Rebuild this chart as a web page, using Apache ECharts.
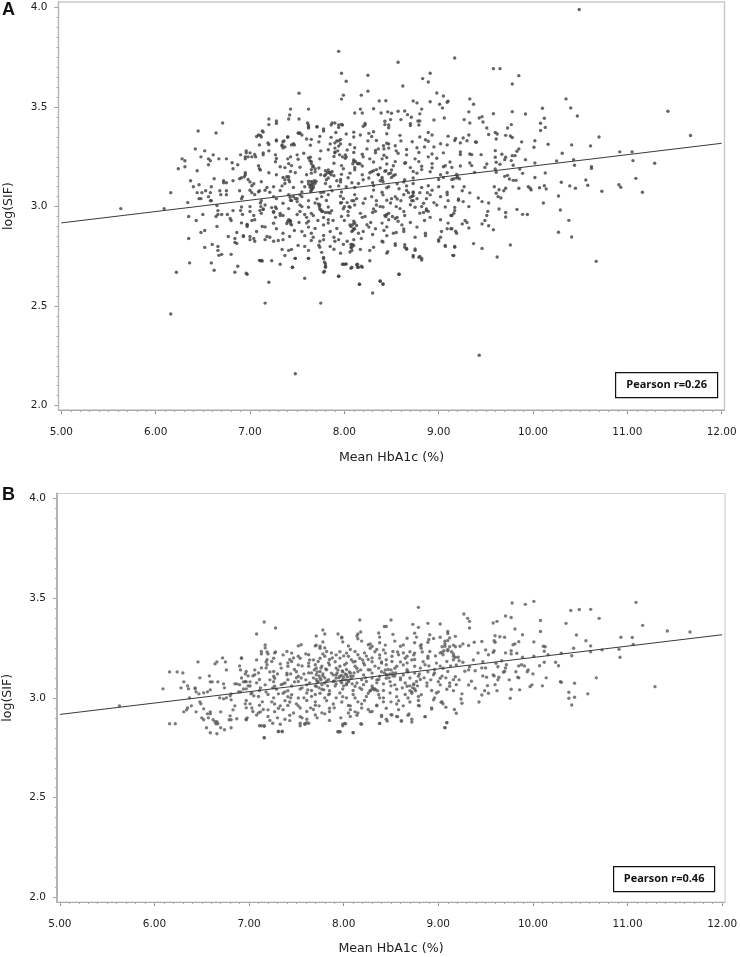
<!DOCTYPE html>
<html><head><meta charset="utf-8">
<style>html,body{margin:0;padding:0;background:#fff}#c{width:740px;height:957px}</style>
<script src="https://cdn.jsdelivr.net/npm/echarts@6/dist/echarts.min.js"></script>
</head><body><div id="c"></div>
<script>
const xTickLabels=[5,6,7,8,9,10,11,12];
const yTickLabels=[2,2.5,3,3.5,4];
const trendA=[[5,2.918],[12,3.318]];
const trendB=[[5,2.917],[12,3.316]];
const pointsA=[[5.63,2.99],[6.09,2.99],[6.16,3.07],[6.34,3.02],[6.28,3.24],[6.31,3.23],[6.31,3.2],[6.24,3.19],[6.45,3.38],[6.64,3.37],[6.71,3.42],[6.42,3.29],[6.52,3.28],[6.48,3.25],[6.61,3.26],[6.56,3.24],[6.58,3.23],[6.56,3.21],[6.67,3.24],[6.75,3.24],[6.44,3.18],[6.81,3.22],[6.87,3.21],[6.82,3.19],[6.9,3.26],[6.96,3.28],[7,3.27],[6.95,3.25],[6.98,3.25],[7.06,3.25],[7.14,3.26],[7.09,3.36],[7.12,3.35],[7.13,3.38],[7.2,3.44],[7.28,3.43],[7.19,3.32],[7.28,3.33],[7.36,3.33],[7.4,3.35],[7.34,3.31],[7.37,3.3],[7.44,3.31],[7.47,3.31],[7.43,3.49],[7.42,3.46],[7.41,3.44],[7.52,3.44],[7.52,3.57],[7.62,3.49],[7.51,3.37],[7.53,3.37],[7.61,3.42],[7.62,3.4],[7.71,3.4],[7.78,3.38],[7.86,3.41],[7.9,3.42],[7.94,3.41],[7.98,3.41],[7.94,3.78],[7.97,3.67],[8.02,3.63],[7.99,3.56],[7.97,3.54],[8.18,3.56],[8.25,3.66],[8.25,3.58],[8.17,3.49],[8.19,3.47],[8.11,3.47],[8.22,3.41],
[7.2,3.412],[7.28,3.418],[7.62,3.41],[7.87,3.42],[7.97,3.413],[8.22,3.418],[8.43,3.412],[8.7,3.417],[8.79,3.41],[7.62,3.395],[7.71,3.402],[7.78,3.39],[7.94,3.398],[8.2,3.404],[8.47,3.396],
[7.14,3.375],[7.52,3.368],[7.91,3.372],[8.02,3.365],[8.1,3.374],[8.26,3.368],[8.31,3.376],[8.45,3.366],[8.89,3.372],[7.07,3.352],[7.11,3.358],[7.4,3.35],[7.55,3.36],[7.74,3.353],[7.86,3.348],[8.17,3.36],[8.29,3.352],[8.59,3.358],[8.8,3.35],[8.93,3.36],[9.1,3.354],
[7.28,3.335],[7.35,3.326],[7.65,3.338],[7.92,3.33],[7.96,3.337],[7.73,3.325],[8.34,3.332],[8.72,3.326],[8.86,3.336],[8.89,3.328],[9.17,3.332],[7.2,3.312],[7.34,3.305],[7.46,3.316],[7.64,3.308],[7.85,3.315],[7.94,3.304],[8.06,3.312],[8.45,3.318],[8.54,3.306],[9.09,3.31],[9.02,3.316],
[7.35,3.295],[7.83,3.286],[7.9,3.294],[8.03,3.284],[8.11,3.296],[8.24,3.29],[8.33,3.282],[8.47,3.294],[8.66,3.287],[8.77,3.296],[6.96,3.27],[7.05,3.262],[7.14,3.27],[7.27,3.26],[7.57,3.268],[7.9,3.274],[8.01,3.26],[8.1,3.272],[8.19,3.263],[8.33,3.27],[8.42,3.258],[8.57,3.268],[8.66,3.26],[8.79,3.272],[8.93,3.264],[9.05,3.27],[9.23,3.262],
[6.95,3.24],[7.02,3.25],[7.28,3.242],[7.43,3.25],[7.51,3.238],[7.64,3.248],[7.74,3.24],[7.89,3.252],[8.01,3.243],[8.2,3.25],[8.27,3.24],[8.45,3.247],[8.75,3.24],[8.89,3.25],[8.98,3.243],[7.27,3.225],[7.41,3.216],[7.65,3.226],[7.89,3.218],[8.1,3.228],[8.15,3.216],[8.31,3.224],[8.45,3.214],[8.54,3.226],[8.64,3.218],[8.79,3.226],[8.93,3.216],[9.12,3.224],
[7.09,3.205],[7.37,3.196],[7.44,3.206],[7.53,3.198],[7.67,3.204],[7.73,3.194],[7.97,3.206],[8.11,3.197],[8.19,3.204],[8.38,3.194],[8.52,3.205],[8.7,3.196],[8.82,3.203],[8.93,3.195],[9.07,3.205],[9.14,3.197],[9.23,3.204],[7.11,3.184],[7.43,3.176],[7.65,3.186],[7.69,3.175],[7.83,3.184],[7.87,3.176],[8.11,3.185],[8.29,3.175],[8.34,3.186],[8.43,3.178],[8.5,3.184],[8.73,3.176],[8.82,3.186],[8.91,3.175],
[6.95,3.17],[7.28,3.16],[7.65,3.168],[7.8,3.16],[7.85,3.17],[7.97,3.162],[8.06,3.168],[8.19,3.16],[8.27,3.17],[8.36,3.162],[8.49,3.168],[8.54,3.16],[8.77,3.168],[9.02,3.16],[9.09,3.17],[9.19,3.162],[6.91,3.145],[6.98,3.136],[7.35,3.146],[7.41,3.135],[7.83,3.144],[7.96,3.136],[8.04,3.145],[8.2,3.135],[8.26,3.144],[8.4,3.136],[8.5,3.146],[8.64,3.135],[8.73,3.144],[9,3.136],[9.05,3.146],[9.14,3.136],[9.19,3.144],
[7,3.124],[7.04,3.115],[7.12,3.125],[7.37,3.116],[7.55,3.124],[7.62,3.114],[7.65,3.126],[7.8,3.116],[7.96,3.124],[8.15,3.116],[8.41,3.125],[8.56,3.115],[8.63,3.124],[8.73,3.116],[7.02,3.105],[7.18,3.096],[7.34,3.104],[7.46,3.096],[7.64,3.106],[7.67,3.095],[7.94,3.104],[8.11,3.096],[8.31,3.105],[8.45,3.095],[8.66,3.104],[8.82,3.096],[8.89,3.105],
[7,3.082],[7.09,3.074],[7.16,3.082],[7.21,3.072],[7.32,3.081],[7.55,3.073],[7.65,3.082],[7.78,3.072],[7.87,3.08],[7.97,3.073],[8.31,3.083],[8.4,3.072],[8.66,3.081],[8.73,3.073],[8.93,3.082],[9.09,3.072],[7.05,3.06],[7.25,3.05],[7.41,3.06],[7.46,3.051],[7.53,3.059],[7.76,3.05],[7.83,3.06],[7.96,3.052],[8.11,3.06],[8.29,3.05],[8.41,3.059],[8.54,3.05],[8.63,3.06],[8.72,3.052],[8.91,3.059],[9.02,3.05],[9.09,3.06],
[6.91,3.04],[7.12,3.03],[7.28,3.04],[7.43,3.032],[7.5,3.04],[7.62,3.03],[7.71,3.039],[7.81,3.031],[7.99,3.04],[8.1,3.03],[8.22,3.04],[8.45,3.032],[8.56,3.038],[8.73,3.03],[8.87,3.04],[9.21,3.032],[7.11,3.018],[7.16,3.008],[7.35,3.017],[7.53,3.008],[7.69,3.018],[7.74,3.009],[7.96,3.018],[8.11,3.008],[8.2,3.017],[8.34,3.008],[8.49,3.018],[8.7,3.009],[8.84,3.017],[8.98,3.008],
[6.91,2.998],[7.14,2.988],[7.27,2.998],[7.41,2.99],[7.62,2.997],[7.74,2.988],[7.83,2.998],[7.99,2.989],[8.06,2.997],[8.31,2.988],[8.41,2.998],[8.59,2.99],[8.75,2.997],[8.87,2.988],[9.07,2.998],[7,2.975],[7.12,2.966],[7.25,2.976],[7.32,2.966],[7.53,2.975],[7.65,2.966],[7.76,2.976],[7.85,2.968],[8.04,2.975],[8.17,2.966],[8.33,2.976],[8.47,2.966],[8.63,2.975],[8.8,2.967],[8.89,2.976],[9.16,2.966],
[7.04,2.955],[7.27,2.946],[7.35,2.955],[7.6,2.946],[7.67,2.955],[7.78,2.945],[8.04,2.955],[8.19,2.946],[8.43,2.955],[8.56,2.946],[8.64,2.955],[8.91,2.946],[9.14,2.955],[7.05,2.934],[7.43,2.926],[7.41,2.934],[7.62,2.926],[7.83,2.934],[8.1,2.926],[8.47,2.934],[8.57,2.926],[9.02,2.934],[6.91,2.918],[6.97,2.908],[7.25,2.916],[7.44,2.908],[7.6,2.917],[7.78,2.908],[7.83,2.917],[8.06,2.908],[8.11,2.917],[8.24,2.909],[8.4,2.917],[8.61,2.908],[9.1,2.917],
[7.16,2.898],[7.28,2.889],[7.62,2.897],[8.11,2.888],[8.26,2.897],[8.33,2.889],[8.45,2.898],[8.63,2.888],[8.77,2.897],[9.14,2.889],[7.07,2.875],[7.35,2.866],[7.55,2.875],[7.65,2.866],[7.85,2.875],[7.96,2.866],[8.08,2.875],[8.15,2.866],[8.2,2.875],[8.52,2.866],[8.63,2.875],[8.86,2.866],[9.03,2.875],[9.19,2.866],
[6.93,2.854],[7.21,2.846],[7.58,2.854],[7.67,2.846],[7.78,2.855],[7.89,2.846],[8.45,2.854],[8.75,2.846],[8.86,2.854],[9.02,2.846],[7,2.834],[7.05,2.826],[7.16,2.834],[7.25,2.826],[7.35,2.834],[7.74,2.826],[7.78,2.834],[7.9,2.826],[7.94,2.834],[8.03,2.826],[8.1,2.834],[8.4,2.826],[9,2.834],
[7.51,2.805],[7.74,2.796],[7.73,2.806],[8.08,2.796],[8.1,2.805],[8.31,2.796],[8.54,2.805],[8.64,2.796],[9.07,2.805],[9.17,2.796],[7.34,2.785],[7.41,2.78],[7.44,2.785],[7.62,2.78],[7.89,2.786],[8.08,2.78],[8.17,2.785],[8.27,2.78],[8.66,2.786],[8.75,2.78],[7.76,2.77],[7.96,2.766],[8.06,2.772],[8.45,2.766],[7.37,2.754],[8.73,2.754],[8.8,2.75],[9.16,2.754],[7.48,2.74],[7.62,2.74],[7.78,2.738],[8.82,2.74],[7.11,2.728],[7.13,2.727],[7.23,2.728],[8.27,2.728],[7.32,2.71],[7.8,2.712],[7.99,2.71],[8.02,2.712],[8.13,2.708],[7.45,2.695],[7.8,2.695],[8.08,2.695],[8.14,2.695],[8.19,2.695],[7.79,2.675],[6.97,2.66],[8.58,2.66],[7.94,2.65],[7.58,2.64],[7.2,2.62],[8.16,2.61],[8.38,2.625],[8.41,2.61],
[6.37,3.13],[6.4,3.1],[6.46,3.11],[6.44,3.07],[6.49,3.07],[6.53,3.08],[6.46,3.04],[6.48,3.04],[6.56,3.05],[6.59,3.03],[6.58,3.03],[6.62,3.14],[6.59,3.1],[6.58,3.07],[6.68,3.08],[6.69,3.06],[6.75,3.08],[6.75,3.06],[6.72,3.12],[6.75,3.12],[6.72,3.13],[6.82,3.13],[6.89,3.14],[6.94,3.15],[6.95,3.16],[6.89,3.08],[6.35,2.95],[6.5,2.96],[6.43,2.93],[6.48,2.87],[6.52,2.88],[6.65,3.005],[6.66,2.98],[6.66,2.96],[6.7,2.96],[6.64,2.95],[6.65,2.9],[6.76,2.96],[6.82,2.98],[6.79,2.94],[6.8,2.93],[6.9,2.98],[6.92,2.96],[6.97,2.91],[6.97,2.9],[6.86,2.87],[6.93,2.85],[6.35,2.84],[6.77,2.85],[6.84,2.84],[7,2.85],[7.04,2.84],
[6.52,2.795],[6.6,2.81],[6.66,2.8],[6.66,2.78],[6.67,2.755],[6.7,2.76],[6.8,2.76],[6.84,2.82],[6.86,2.815],[6.36,2.717],[6.22,2.67],[6.59,2.717],[6.62,2.68],[6.87,2.7],[6.84,2.67],[6.96,2.665],[6.16,2.46],[7.16,2.515],[7.75,2.515],[7.48,2.16],[7.1,2.73],[7.12,2.73],[7.45,2.695],[7.48,2.74],[7.62,2.74],[7.79,2.72],[7.8,2.7],[7.78,2.67],[7.78,2.745],[7.94,2.65],[7.98,2.71],[8.01,2.71],[8.07,2.69],[8.14,2.71],[8.15,2.695],[8.18,2.7],[8.16,2.61],
[10.49,3.99],[9.17,3.747],[8.57,3.725],[9.58,3.693],[9.65,3.693],[9.85,3.658],[9.78,3.616],[8.91,3.67],[8.83,3.643],[8.89,3.626],[8.62,3.606],[8.98,3.571],[9.05,3.556],[9.1,3.53],[9.09,3.524],[9.01,3.514],[9.04,3.496],[9.33,3.541],[9.37,3.514],[8.37,3.531],[8.44,3.532],[8.73,3.531],[8.77,3.521],[8.91,3.527],[8.82,3.49],[8.8,3.466],[8.31,3.492],[8.39,3.47],[8.46,3.476],[8.5,3.469],[8.57,3.479],[8.64,3.48],[8.67,3.462],[8.71,3.449],[8.78,3.43],[8.8,3.43],[8.95,3.435],[9.06,3.445],[8.43,3.429],[8.49,3.437],[8.6,3.437],[8.47,3.41],[8.7,3.407],[9.32,3.476],[9.58,3.467],[9.27,3.437],[9.33,3.42],[9.43,3.445],[9.46,3.452],[9.47,3.425],[9.51,3.395],[9.53,3.362],[9.6,3.372],[9.62,3.365],[9.61,3.34],[9.73,3.395],[9.77,3.412],[9.71,3.358],[9.76,3.355],[9.78,3.347],[9.78,3.477],[9.92,3.465],[10.1,3.494],[10.12,3.444],[10.08,3.419],[10.13,3.398],[10.08,3.382],[10.35,3.541],[10.4,3.496],[10.47,3.455],[11.43,3.479],[11.67,3.357],[10.7,3.35],[10.41,3.31],[10.61,3.305],[10.92,3.275],[11.05,3.275],[11.06,3.231],[11.29,3.218],[11.09,3.142],[11.16,3.072],[10.91,3.11],[10.93,3.097],[10.73,3.077],[10.56,3.134],[10.58,3.107],[10.62,3.201],[10.62,3.192],[10.43,3.236],[10.44,3.208],[10.31,3.268],[10.25,3.229],[10.16,3.313],[10.02,3.331],[10.01,3.298],[9.88,3.325],[10.13,3.169],[10.02,3.219],[9.92,3.236],[10.3,3.122],[10.39,3.104],[10.45,3.092],[10.27,3.053],[10.29,2.983],[10.38,2.931],[10.27,2.871],[10.41,2.847],[10.11,3.018],[10.07,3.095],[10.12,3.105],[10.14,3.089],[9.95,3.1],[9.97,3.092],[9.98,3.084],[9.85,3.092],[10.02,3.146],[9.86,3.189],[9.89,3.167],[9.7,3.152],[9.73,3.157],[9.75,3.139],[9.79,3.132],[9.82,3.132],[9.59,3.1],[9.64,3.085],[9.69,3.08],[9.71,3.092],[9.61,3.067],[9.63,3.05],[9.66,3.043],[9.42,3.043],[9.46,3.025],[9.53,3.018],[9.52,2.976],[9.51,2.955],[9.49,2.93],[9.46,2.913],[9.53,2.904],[9.58,2.884],[9.64,2.988],[9.71,2.97],[9.71,2.948],[9.83,2.986],[9.89,2.961],[9.94,2.96],[9.81,3.256],[9.83,3.278],[9.78,3.256],[9.85,3.29],[9.67,3.263],[9.71,3.248],[9.7,3.236],[9.65,3.213],[9.6,3.281],[9.6,3.248],[9.61,3.223],[9.79,3.208],[9.77,3.231],[9.49,3.197],[9.51,3.214],[9.6,3.189],[9.61,3.172],[9.45,3.261],[9.33,3.264],[9.35,3.261],[9.23,3.275],[9.39,3.325],[9.4,3.323],[9.32,3.36],[9.26,3.345],[9.23,3.32],[9.18,3.342],[9.3,3.331],[9.33,3.219],[9.35,3.206],[9.38,3.172],[9.33,3.069],[9.25,3.08],[9.27,3.1],[9.21,3.038],[9.26,3.025],[9.32,3],[9.17,2.996],[9.17,2.98],[9.13,2.955],[9.25,2.913],[9.28,2.93],[9.3,2.92],[9.32,2.893],[9.09,2.889],[9.13,2.889],[9.18,2.876],[10.67,2.725],[9.43,2.253],[9.76,2.807],[9.62,2.747],[9.46,2.79],[9.37,2.814],[9.17,2.8],[9.15,2.755],[9.07,2.8],[9,2.826],[8.82,2.732],[8.79,2.745],[8.73,2.747],[8.75,2.787],[8.66,2.79],[8.64,2.809],[8.54,2.814],[8.46,2.774],[8.41,2.822],[8.58,2.66],[8.38,2.626],[8.41,2.611],[8.3,2.566]];
const clustersA=[[7.68,3.13],[7.665,3.12],[7.65,3.11],[7.69,3.117],[7.637,3.097],[7.658,3.089],[7.672,3.105],[7.62,3.127],[7.644,3.075],[7.7,3.127],[7.62,3.244],[7.635,3.23],[7.65,3.215],[7.665,3.2],[7.69,3.19],[7.8,3.18],[7.82,3.17],[7.84,3.17],[7.86,3.16],[7.89,3.155],[7.79,3.155],[7.81,3.135],[8.1,3.235],[8.12,3.225],[8.14,3.215],[8.165,3.215],[8.09,3.215],[7.9,3.27],[7.95,3.26],[7.98,3.25],[8.02,3.25],[7.93,3.28],[7.9,3.32],[7.94,3.33],[7.96,3.315],[8.73,3.07],[8.7,3.047],[8.73,3.055],[8.77,3.04],[8.68,3.07],[8.715,3.03],[7.725,3.013],[7.735,3],[7.75,2.985],[7.77,2.975],[7.8,2.97],[7.83,2.97],[7.865,2.98],[8.07,2.9],[8.09,2.91],[8.1,2.89],[8.13,2.905],[8.09,2.88],[8.07,2.81],[8.085,2.81],[8.07,2.795],[7.4,2.925],[7.43,2.915],[7.425,2.93],[7.39,2.915],[7.25,2.97],[7.28,2.99],[7.23,2.995],[7.32,2.955],[7.115,3],[7.14,2.985],[7.105,2.98],[7.37,3.135],[7.41,3.15],[7.39,3.15],[7.42,3.125],[7.425,3.047],[7.48,3.04],[7.55,3.05],[7.44,3.03],[7.5,3.025],[7.97,3.02],[8.03,3.02],[8.08,3.03],[8.13,3.04],[8,3],[8.05,3],[8.4,3.147],[8.47,3.165],[8.52,3.155],[8.31,3.18],[8.44,3.18],[8.36,3.16],[8.415,3.306],[8.47,3.315],[8.42,3.29],[8.36,3.29],[8.8,3.07],[8.82,3],[8.87,2.98],[8.84,2.97],[8.45,2.96],[8.54,2.94],[8.44,2.95],[8.51,2.95],[9.16,3.14],[9.2,3.15],[9.22,3.14],[7.55,3],[7.58,2.96],[7.5,2.96],[7.52,2.92],[7.47,2.88],[7.72,2.93],[7.69,2.89],[7.88,2.93],[7.92,2.89],[7.97,2.95],[8,2.93],[8.22,2.95],[8.28,2.92],[8.3,2.97],[8.34,3.03],[8.38,3],[8.55,3],[8.6,3.03],[8.5,3.04],[8.58,3.09],[8.47,3.1],[8.38,3.13],[8.3,3.12],[8.08,3.12],[8.02,3.1],[7.92,3.13],[7.85,3.1],[7.75,3.16],[7.75,3.07],[7.58,3.1],[7.48,3.17],[7.6,3.16],[7.32,3.2],[7.25,3.1],[7.2,3.17],[7.1,3.08],[7.1,3.19],[7.02,3.07],[6.92,3.05],[7,3],[7.02,2.93],[7.13,2.9],[7.18,2.85],[7.3,2.83],[7.42,2.85],[7.58,2.8],[7.65,2.83],[7.85,2.8],[7.99,2.81],[8.18,2.84],[8.3,2.86],[8.42,2.88],[8.55,2.87],[8.7,2.92],[8.85,2.93],[8.95,3.02],[9,3.1],[8.88,3.07],[9.1,3.03],[9.15,3.1],[9.05,3.2],[8.95,3.3],[8.85,3.3],[8.6,3.33],[8.65,3.22],[8.55,3.28],[8.4,3.24],[8.25,3.33],[8.1,3.35],[7.99,3.19],[7.75,3.28],[7.6,3.34],[7.5,3.26],[7.4,3.24],[7.2,3.28],[7.1,3.31]];
const pointsB=[[5.63,2.96],[6.09,3.045],[6.16,3.13],[6.24,3.13],[6.3,3.125],[6.16,2.87],[6.22,2.87],[6.28,3.05],[6.31,3.08],[6.35,3.06],[6.36,3.045],[6.37,3],[6.39,2.96],[6.35,2.95],[6.31,2.93],[6.34,2.94],[6.43,3.05],[6.44,3.03],[6.43,3.045],[6.47,3.02],[6.52,3.025],[6.46,3.18],[6.48,3.1],[6.58,3.11],[6.59,3.08],[6.61,3.08],[6.56,3.03],[6.59,3.04],[6.48,2.98],[6.49,2.97],[6.44,2.93],[6.52,2.945],[6.5,2.9],[6.52,2.89],[6.56,2.92],[6.59,2.92],[6.57,2.9],[6.62,2.89],[6.64,2.88],[6.66,2.88],[6.67,2.87],[6.7,2.85],[6.65,2.87],[6.55,2.85],[6.59,2.825],[6.66,2.82],[6.74,2.84],[6.81,2.85],[6.64,3.17],[6.66,3.18],[6.72,3.2],[6.75,3.18],[6.76,3.14],[6.67,3.08],[6.73,3.07],[6.74,3.05],[6.69,3],[6.73,2.995],[6.7,2.93],[6.59,2.93],[6.8,3.01],[6.76,3],[6.81,3.02],[6.85,3.07],[6.87,3.07],[6.9,3.16],[6.92,3.2],[6.91,3.14],[6.96,3.12],[6.99,3.11],[6.94,3.08],[6.97,3.08],[7.01,3.08],[7.04,3.11],[6.89,3.03],[6.91,3.03],[6.97,3.045],[6.99,3.06],[6.81,2.99],[6.85,2.96],[6.83,2.94],[6.8,2.91],[6.79,2.89],[6.87,2.895],[6.81,2.89],[6.97,2.89],[6.98,2.9],[6.97,2.95],[7.01,2.97],[7.06,3.14],[7.08,3.32],[7.16,3.38],[7.28,3.35],[7.17,3.25],[7.13,3.22],[7.19,3.23],[7.2,3.22],[7.28,3.23],[7.18,3.15],[7.18,3.18],[7.16,2.8],[7.13,2.86],[7.16,2.86],[7.31,2.83],[7.35,2.83],[7.54,2.86],[7.59,2.87],[7.61,2.875],[7.94,2.83],[7.96,2.83],[8.1,2.825],[7.99,2.86],[8.02,2.87],[8.18,2.87],[7.71,3.31],[7.78,3.34],[7.8,3.32],[7.94,3.32],[7.98,3.3],[7.99,3.28],[8.17,3.39],[8.18,3.33],[8.14,3.31],[7.7,3.26],[7.78,3.28],[7.8,3.25],
[8.15,3.32],[8.37,3.325],[8.52,3.318],[8.75,3.324],[8.91,3.316],[9.1,3.322],[7.98,3.304],[8.15,3.296],[8.38,3.304],[8.67,3.298],[8.77,3.304],[8.95,3.297],[9.02,3.303],[8.9,3.292],[8.19,3.284],[8.38,3.276],[8.54,3.284],[8.75,3.276],[9.07,3.283],[8.89,3.278],
[7.17,3.265],[7.52,3.26],[7.55,3.266],[7.75,3.258],[7.71,3.264],[8.05,3.26],[8.26,3.266],[8.3,3.258],[8.44,3.264],[8.6,3.258],[8.63,3.265],[8.81,3.26],[8.82,3.266],[9.07,3.258],[9.16,3.264],[7.75,3.248],[8.07,3.242],[8.28,3.248],[8.35,3.242],[8.82,3.248],[9.1,3.242],[7.13,3.232],[7.27,3.225],[7.4,3.232],[7.45,3.224],[7.82,3.232],[7.87,3.225],[7.96,3.231],[8.03,3.224],[8.12,3.232],[8.22,3.225],[8.33,3.231],[8.44,3.224],[8.52,3.232],[8.63,3.225],[8.7,3.231],[8.75,3.224],[8.91,3.232],[9.02,3.225],[9.14,3.231],
[7.36,3.215],[7.52,3.208],[7.63,3.216],[7.8,3.208],[7.92,3.215],[8.05,3.208],[8.15,3.216],[8.24,3.209],[8.38,3.215],[8.51,3.208],[8.58,3.216],[8.67,3.208],[8.74,3.215],[8.89,3.208],[9.05,3.216],[9.16,3.208],[6.92,3.198],[7.19,3.191],[7.26,3.198],[7.43,3.192],[7.54,3.198],[7.64,3.19],[7.75,3.198],[7.85,3.192],[7.96,3.199],[8.08,3.191],[8.17,3.198],[8.26,3.192],[8.38,3.199],[8.45,3.191],[8.65,3.198],[8.75,3.192],[8.89,3.198],[9.16,3.191],
[7.24,3.182],[7.41,3.175],[7.45,3.182],[7.63,3.174],[7.73,3.182],[7.84,3.175],[7.91,3.181],[8.03,3.174],[8.12,3.182],[8.21,3.175],[8.3,3.181],[8.4,3.174],[8.51,3.182],[8.67,3.175],[8.84,3.181],[8.98,3.174],[9.09,3.182],[7.19,3.166],[7.41,3.158],[7.52,3.165],[7.63,3.158],[7.7,3.166],[7.77,3.159],[7.85,3.165],[7.96,3.158],[8.01,3.166],[8.12,3.158],[8.22,3.165],[8.33,3.159],[8.45,3.166],[8.56,3.158],[8.63,3.165],[8.75,3.158],[8.86,3.166],[9.02,3.159],[9.19,3.165],
[7.34,3.149],[7.48,3.142],[7.71,3.148],[7.82,3.141],[7.92,3.149],[8.03,3.142],[8.14,3.148],[8.26,3.141],[8.37,3.149],[8.47,3.142],[8.54,3.148],[8.67,3.141],[8.81,3.149],[8.96,3.142],[9.05,3.148],[6.97,3.132],[7.1,3.125],[7.26,3.132],[7.4,3.124],[7.5,3.131],[7.63,3.125],[7.75,3.132],[7.87,3.124],[7.99,3.131],[8.07,3.125],[8.15,3.132],[8.3,3.124],[8.4,3.131],[8.52,3.125],[8.67,3.132],[8.75,3.124],[8.89,3.131],[8.96,3.125],[9.1,3.132],
[7.06,3.116],[7.26,3.108],[7.4,3.115],[7.52,3.108],[7.71,3.116],[7.78,3.109],[7.92,3.115],[7.96,3.108],[8.03,3.116],[8.1,3.109],[8.21,3.115],[8.38,3.108],[8.45,3.116],[8.54,3.109],[8.63,3.115],[8.79,3.108],[8.95,3.116],[9.04,3.109],[6.92,3.099],[7.11,3.092],[7.27,3.098],[7.41,3.091],[7.55,3.099],[7.71,3.092],[7.75,3.098],[7.84,3.091],[7.92,3.099],[7.99,3.092],[8.08,3.098],[8.19,3.091],[8.3,3.099],[8.37,3.092],[8.45,3.098],[8.6,3.091],[8.7,3.099],[8.81,3.092],[9.02,3.098],[9.16,3.091],
[6.96,3.082],[7.08,3.075],[7.26,3.081],[7.38,3.074],[7.52,3.082],[7.64,3.075],[7.73,3.081],[7.8,3.074],[7.89,3.082],[7.98,3.075],[8.05,3.081],[8.14,3.074],[8.24,3.082],[8.35,3.075],[8.49,3.081],[8.65,3.074],[8.77,3.082],[8.88,3.075],[9,3.081],[9.12,3.074],[6.9,3.066],[7.01,3.059],[7.17,3.065],[7.27,3.058],[7.34,3.066],[7.45,3.059],[7.61,3.065],[7.71,3.058],[7.77,3.066],[7.91,3.059],[8.03,3.065],[8.12,3.058],[8.21,3.066],[8.3,3.059],[8.54,3.065],[8.67,3.058],[8.74,3.066],[8.88,3.059],[9.02,3.065],[9.12,3.058],[9.19,3.066],
[6.94,3.044],[7.11,3.037],[7.29,3.043],[7.41,3.036],[7.54,3.044],[7.66,3.037],[7.77,3.043],[7.85,3.036],[7.99,3.044],[8.1,3.037],[8.19,3.043],[8.28,3.036],[8.33,3.044],[8.42,3.037],[8.56,3.043],[8.7,3.036],[8.75,3.044],[8.93,3.037],[9.09,3.043],[9.16,3.036],[7.03,3.024],[7.2,3.017],[7.36,3.023],[7.45,3.016],[7.61,3.024],[7.7,3.017],[7.75,3.023],[7.84,3.016],[7.96,3.024],[8.1,3.017],[8.26,3.023],[8.37,3.016],[8.49,3.024],[8.65,3.017],[8.72,3.023],[8.82,3.016],[8.98,3.024],
[7.1,3.007],[7.26,3],[7.41,3.006],[7.52,2.999],[7.66,3.007],[7.8,3],[7.99,3.006],[8.12,2.999],[8.24,3.007],[8.38,3],[8.56,3.006],[8.68,2.999],[8.79,3.007],[8.96,3],[6.97,2.987],[7.24,2.98],[7.38,2.986],[7.43,2.979],[7.61,2.987],[7.7,2.98],[7.82,2.986],[7.98,2.979],[8.22,2.987],[8.42,2.98],[8.58,2.986],[8.7,2.979],[8.79,2.987],[9.04,2.98],[6.96,2.97],[7.11,2.963],[7.27,2.969],[7.41,2.962],[7.5,2.97],[7.7,2.963],[7.89,2.969],[8.05,2.962],[8.19,2.97],[8.35,2.963],[8.56,2.969],[8.79,2.962],[9.05,2.97],
[7.03,2.949],[7.15,2.942],[7.31,2.948],[7.36,2.941],[7.54,2.949],[7.68,2.942],[7.85,2.948],[8.07,2.941],[8.19,2.949],[8.26,2.942],[8.45,2.948],[8.58,2.941],[8.93,2.949],[9.17,2.942],[7.04,2.932],[7.1,2.925],[7.27,2.931],[7.47,2.924],[7.61,2.932],[7.77,2.925],[7.85,2.931],[8.05,2.924],[8.3,2.932],[8.15,2.925],[7.08,2.914],[7.2,2.907],[7.43,2.913],[7.54,2.906],[7.7,2.914],[8.07,2.907],[8.14,2.913],[8.4,2.906],[8.51,2.914],[8.56,2.907],[8.68,2.913],[8.86,2.906],
[6.97,2.893],[7.22,2.887],[7.38,2.893],[7.43,2.886],[7.61,2.893],[7.85,2.887],[8.45,2.893],[8.61,2.886],[8.72,2.893],[7.25,2.873],[7.33,2.868],[7.54,2.873],[7.59,2.868],[7.63,2.873],[7.99,2.868],[8.01,2.872],[8.19,2.868],[8.38,2.872],[7.11,2.86],[7.16,2.858],[7.94,2.83],[7.96,2.83],[8.1,2.826],[7.31,2.833],[7.35,2.833],[7.16,2.8],[9.07,2.85],[9.09,2.875],[9.19,2.923],
[8.79,3.453],[8.5,3.39],[8.43,3.357],[8.45,3.357],[8.73,3.368],[8.79,3.353],[8.89,3.373],[9.02,3.37],[9.27,3.42],[9.31,3.398],[9.33,3.383],[9.33,3.35],[9.58,3.375],[9.62,3.383],[9.71,3.41],[9.77,3.402],[9.78,3.475],[9.92,3.468],[10.01,3.483],[10.08,3.387],[10.08,3.332],[9.81,3.345],[9.89,3.316],[10.35,3.373],[10.4,3.437],[10.49,3.442],[10.61,3.443],[10.7,3.398],[11.09,3.478],[11.16,3.363],[11.42,3.335],[11.66,3.33],[10.93,3.303],[11.05,3.302],[11.06,3.267],[10.91,3.243],[10.92,3.203],[11.29,3.056],[10.67,3.1],[10.58,3.02],[10.44,3.003],[10.38,3.028],[10.38,2.998],[10.41,2.964],[10.44,3.073],[10.29,3.081],[10.3,3.078],[10.14,3.1],[10.1,3.06],[9.99,3.065],[9.97,3.056],[9.86,3.04],[9.77,3.043],[9.76,2.998],[9.62,3.036],[9.6,3.066],[9.53,3.023],[9.49,3.036],[9.46,3.014],[9.43,2.979],[9.52,3.061],[9.59,3.11],[10.46,3.315],[10.56,3.286],[10.61,3.26],[10.61,3.231],[10.73,3.24],[10.43,3.248],[10.41,3.211],[10.3,3.223],[10.16,3.216],[10.24,3.178],[10.27,3.161],[10.12,3.178],[10.07,3.161],[10.01,3.208],[10.01,3.28],[10.11,3.258],[10.13,3.256],[10.12,3.233],[10,3.12],[9.95,3.14],[9.94,3.131],[9.91,3.16],[9.88,3.166],[9.85,3.16],[9.82,3.131],[9.84,3.103],[9.85,3.1],[9.75,3.09],[9.89,3.203],[9.83,3.223],[9.77,3.236],[9.77,3.22],[9.79,3.266],[9.81,3.27],[9.85,3.281],[9.7,3.303],[9.65,3.306],[9.6,3.311],[9.59,3.286],[9.6,3.278],[9.59,3.236],[9.58,3.228],[9.71,3.225],[9.67,3.186],[9.46,3.282],[9.5,3.24],[9.42,3.225],[9.53,3.216],[9.47,3.181],[9.37,3.19],[9.26,3.27],[9.32,3.262],[9.38,3.278],[9.61,3.173],[9.63,3.156],[9.72,3.166],[9.71,3.15],[9.69,3.128],[9.7,3.133],[9.64,3.103],[9.63,3.09],[9.58,3.115],[9.5,3.15],[9.47,3.11],[9.51,3.103],[9.33,3.156],[9.32,3.14],[9.28,3.133],[9.39,3.136],[9.46,3.15],[9.35,3.083],[9.32,3.064],[9.39,3.048],[9.25,3.02],[9.24,2.994],[9.25,2.973],[9.09,2.876],[9.07,2.851],[9.18,3.106],[9.22,3.09],[9.1,3.332],[9.18,3.308],[9.12,3.3],[9.1,3.287],[9.07,3.27],[9.04,3.256],[9.04,3.228],[9.06,3.236],[9.1,3.236],[9.12,3.256],[9.18,3.256],[9.23,3.258],[9.16,3.22],[9.18,3.203],[9.21,3.203],[9.22,3.186],[9.26,3.178],[9.03,2.978],[9.08,2.953],[8.93,2.944],[8.86,2.906],[8.72,2.879],[8.61,2.883],[8.69,2.919],[8.57,2.906],[8.5,2.916],[8.46,2.884],[8.4,2.913],[8.38,2.872]];
const clustersB=[[7.9,3.085],[7.93,3.125],[7.95,3.1],[7.97,3.08],[7.985,3.135],[8,3.105],[8.02,3.09],[8.015,3.12],[8.04,3.105],[8.06,3.13],[8.055,3.085],[8.075,3.11],[8.09,3.07],[8.11,3.125],[7.92,3.07],[7.94,3.14],[7.89,3.115],[8.03,3.072],[7.975,3.112],[8,3.06],[7.68,3.1],[7.72,3.08],[7.74,3.11],[7.76,3.09],[7.78,3.12],[7.8,3.1],[7.82,3.085],[7.83,3.06],[7.7,3.06],[7.66,3.125],[7.74,3.05],[7.79,3.04],[7.69,3.14],[7.76,3.15],[7.72,3.13],[7.81,3.145],[8.43,3.125],[8.46,3.115],[8.49,3.12],[8.52,3.11],[8.44,3.14],[8.48,3.1],[8.55,3.125],[8.5,3.14],[8.28,3.035],[8.3,3.045],[8.32,3.04],[8.34,3.04],[8.36,3.035],[8.31,3.05],[8.7,3.06],[8.73,3.05],[8.76,3.035],[8.72,3.03],[8.78,3.06],[8.74,3.07],[7.05,3.01],[7.12,3.05],[7.22,3.09],[7.3,3.12],[7.36,3.07],[7.31,3.02],[7.44,3.12],[7.48,3.08],[7.56,3.05],[7.58,3.12],[7.6,3.09],[7.56,3.16],[7.47,3.2],[7.33,3.17],[7.22,3.13],[7.13,3.15],[7.08,3.19],[7.02,3.02],[7.14,2.98],[7.2,2.94],[7.33,2.96],[7.44,3],[7.52,2.96],[7.58,3],[7.65,2.95],[7.74,2.96],[7.8,2.92],[7.9,2.95],[7.92,3],[7.85,3.02],[8.03,3],[8.07,2.96],[8.15,2.98],[8.17,3.05],[8.23,3.1],[8.28,3.14],[8.18,3.14],[8.2,3.19],[8.1,3.18],[8,3.21],[7.88,3.2],[7.78,3.22],[7.68,3.19],[7.6,3.22],[8.3,3.2],[8.4,3.18],[8.35,3.09],[8.42,3.07],[8.5,3.06],[8.6,3.1],[8.62,3.05],[8.68,3.13],[8.6,3.18],[8.72,3.19],[8.8,3.12],[8.85,3.1],[8.92,3.09],[8.9,3.16],[8.97,3.21],[8.83,3.23],[8.57,3.23],[8.42,3.24],[8.28,3.27],[8.42,3],[8.5,2.98],[8.63,2.96],[8.35,2.96],[8.28,2.93],[8.12,2.93],[7.97,2.9],[7.72,2.9],[7.56,2.9],[7.3,2.9],[7.12,2.93],[9,3.03],[9.08,3.1],[9.13,3.16],[8.95,2.99],[8.8,2.96],[7.18,3.03],[7.25,3.05],[7.38,3.03],[7.5,3.1],[7.62,3.04]];

const xMinor=[],yMinor=[];
for(let i=50;i<=120;i++)xMinor.push(i/10);
for(let i=40;i<=80;i++)yMinor.push(i/20);

const FONT='"DejaVu Sans"';
function axes(idx,lineW){
  const xCommon={gridIndex:idx,type:'value',min:4.97,max:12.03,splitLine:{show:false}};
  const yCommon={gridIndex:idx,type:'value',min:1.978,max:idx?4.023:4.028,splitLine:{show:false}};
  return {
    x:[
      Object.assign({},xCommon,{position:'bottom',name:'Mean HbA1c (%)',nameLocation:'middle',nameGap:idx?40:41,
        nameTextStyle:{fontFamily:FONT,fontSize:12.6,color:'#222'},
        axisLine:{show:true,onZero:false,lineStyle:{color:'#aaa',width:1}},
        axisTick:{show:true,length:4,customValues:xTickLabels,lineStyle:{color:'#888'}},
        axisLabel:{show:true,margin:idx?17:17,customValues:xTickLabels,formatter:v=>v.toFixed(2),fontFamily:FONT,fontSize:10.5,color:'#222',showMinLabel:true,showMaxLabel:true}}),
      Object.assign({},xCommon,{position:'bottom',axisLine:{show:false},axisLabel:{show:false},
        axisTick:{show:true,length:2,customValues:xMinor,lineStyle:{color:'#aaa'}}})
    ],
    y:[
      Object.assign({},yCommon,{position:'left',name:'log(SIF)',nameLocation:'middle',nameGap:43,
        nameTextStyle:{fontFamily:FONT,fontSize:12.6,color:'#222'},
        axisLine:{show:true,onZero:false,lineStyle:{color:'#b5b5b5',width:lineW}},
        axisTick:{show:true,length:4,customValues:yTickLabels,lineStyle:{color:'#999'}},
        axisLabel:{show:true,margin:11,customValues:yTickLabels,formatter:v=>v.toFixed(1),fontFamily:FONT,fontSize:10.5,color:'#222',showMinLabel:true,showMaxLabel:true}}),
      Object.assign({},yCommon,{position:'left',axisLine:{show:false},axisLabel:{show:false},
        axisTick:{show:true,length:2,customValues:yMinor,lineStyle:{color:'#aaa'}}})
    ]
  };
}
const a0=axes(0,1),a1=axes(1,2);
function pearson(left,top,w,h,txt){
  return {type:'group',left,top,children:[
    {type:'rect',shape:{x:0,y:0,width:w,height:h},style:{fill:'#fff',stroke:'#111',lineWidth:1.2}},
    {type:'text',style:{x:w/2,y:h/2,text:txt,align:'center',verticalAlign:'middle',fontFamily:'"Open Sans"',fontWeight:700,fontSize:11,fill:'#111'}}
  ]};
}
function letter(l,t,s){return {type:'text',left:l,top:t,style:{text:s,fontFamily:'"Liberation Sans"',fontWeight:'bold',fontSize:18,fill:'#111'}};}
const chart=echarts.init(document.getElementById('c'),null,{renderer:'canvas'});
chart.setOption({
  animation:false,backgroundColor:'#fff',
  grid:[
    {left:58.5,right:15.5,top:2,height:408,show:true,borderColor:'#c9c9c9',borderWidth:1.5,outerBoundsMode:'none'},
    {left:57,right:15,top:493.5,height:408.5,show:true,borderColor:'#d0d0d0',borderWidth:1.2,outerBoundsMode:'none'}
  ],
  xAxis:[...a0.x,...a1.x],
  yAxis:[...a0.y,...a1.y],
  series:[
    {type:'scatter',xAxisIndex:0,yAxisIndex:0,data:pointsA.concat(clustersA),symbol:'circle',symbolSize:3.4,itemStyle:{color:'#3f3f3f'},silent:true,z:3},
    {type:'line',xAxisIndex:0,yAxisIndex:0,data:trendA,showSymbol:false,lineStyle:{color:'#3a3a3a',width:1},silent:true,z:4},
    {type:'scatter',xAxisIndex:2,yAxisIndex:2,data:pointsB.concat(clustersB),symbol:'circle',symbolSize:3.4,itemStyle:{color:'#5a5a5a'},silent:true,z:3},
    {type:'line',xAxisIndex:2,yAxisIndex:2,data:trendB,showSymbol:false,lineStyle:{color:'#3a3a3a',width:1},silent:true,z:4}
  ],
  graphic:[letter(2,1,'A'),letter(2,486,'B'),pearson(615,372,102,25,'Pearson r=0.26'),pearson(613,866,101,25,'Pearson r=0.46')]
});
</script></body></html>
